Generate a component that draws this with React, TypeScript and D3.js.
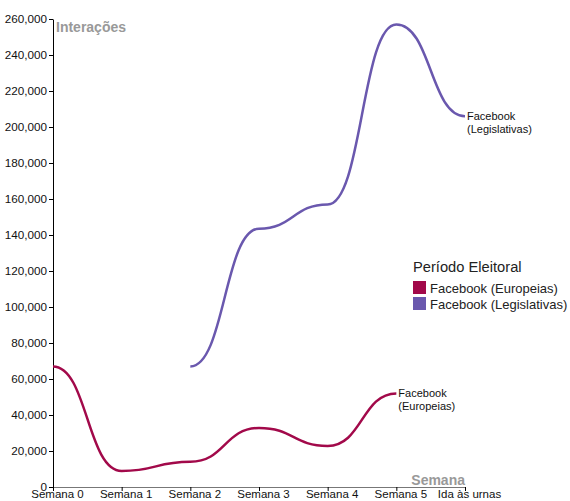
import React, { useEffect, useRef } from 'react';
import * as d3 from 'd3';

const weeks = ['Semana 0', 'Semana 1', 'Semana 2', 'Semana 3', 'Semana 4', 'Semana 5', 'Ida às urnas'];
const europeias = [67000, 8900, 14000, 32800, 22800, 52000, null];
const legislativas = [null, null, 67000, 143500, 157000, 257000, 206000];
const seriesNames = ['Facebook (Europeias)', 'Facebook (Legislativas)'];
const seriesLabels = [['Facebook', '(Europeias)'], ['Facebook', '(Legislativas)']];
const colors = ['#a2094a', '#6a58ae'];
const yTicks = [0, 20000, 40000, 60000, 80000, 100000, 120000, 140000, 160000, 180000, 200000, 220000, 240000, 260000];

const font = 'Liberation Sans, Arial, sans-serif';

const App = () => {
  const svgRef = useRef<SVGSVGElement>(null);

  useEffect(() => {
    const width = 570;
    const height = 501;
    const margin = { top: 19, right: 105, bottom: 14, left: 53 };
    const svg = d3.select(svgRef.current);
    svg.selectAll('*').remove();
    svg.attr('width', width).attr('height', height);

    const innerW = width - margin.left - margin.right;
    const innerH = height - margin.top - margin.bottom;

    const chart = svg.append('g').attr('transform', `translate(${margin.left},${margin.top})`);

    const x = d3.scalePoint<string>().domain(weeks).range([0, innerW]);
    const y = d3.scaleLinear().domain([0, 260000]).range([innerH, 0]);

    const yAxis = chart.append('g')
      .call(d3.axisLeft(y).tickValues(yTicks).tickFormat(d3.format(',')).tickSize(4).tickSizeOuter(0).tickPadding(2));
    yAxis.selectAll('text').style('font-family', font).style('font-size', '11.7px').attr('fill', '#111');

    const xAxis = chart.append('g')
      .attr('transform', `translate(0,${innerH})`)
      .call(d3.axisBottom(x).tickSize(4).tickSizeOuter(0));
    xAxis.select('.domain').attr('stroke', '#777');
    xAxis.selectAll('text')
      .attr('y', 3)
      .attr('dx', 4)
      .style('font-family', font)
      .style('font-size', '11.5px')
      .attr('fill', '#111');

    chart.append('text')
      .attr('x', 3)
      .attr('y', 13)
      .style('font-family', font)
      .style('font-size', '14px')
      .style('font-weight', 'bold')
      .attr('fill', '#999')
      .text('Interações');

    chart.append('text')
      .attr('x', innerW)
      .attr('y', innerH - 2)
      .attr('text-anchor', 'end')
      .style('font-family', font)
      .style('font-size', '14px')
      .style('font-weight', 'bold')
      .attr('fill', '#999')
      .text('Semana');

    const line = d3.line<[string, number | null]>()
      .defined(d => d[1] !== null)
      .x(d => x(d[0]) as number)
      .y(d => y(d[1] as number))
      .curve(d3.curveBumpX);

    [europeias, legislativas].forEach((vals, i) => {
      const pts = weeks.map((w, j) => [w, vals[j]] as [string, number | null]);
      chart.append('path')
        .datum(pts)
        .attr('d', line)
        .attr('fill', 'none')
        .attr('stroke', colors[i])
        .attr('stroke-width', 2.5);

      const last = pts.filter(d => d[1] !== null).slice(-1)[0];
      const lbl = chart.append('text')
        .attr('x', (x(last[0]) as number) + 2)
        .attr('y', y(last[1] as number) + 4)
        .style('font-family', font)
        .style('font-size', '11px')
        .attr('fill', '#111');
      seriesLabels[i].forEach((t, k) => {
        lbl.append('tspan')
          .attr('x', (x(last[0]) as number) + 2)
          .attr('dy', k === 0 ? 0 : 13)
          .text(t);
      });
    });

    const legend = svg.append('g').attr('transform', 'translate(413,272)');
    legend.append('text')
      .attr('x', 0)
      .attr('y', 0)
      .style('font-family', font)
      .style('font-size', '14.7px')
      .attr('fill', '#222')
      .text('Período Eleitoral');
    seriesNames.forEach((n, i) => {
      legend.append('rect')
        .attr('x', 0)
        .attr('y', 9 + i * 16)
        .attr('width', 13)
        .attr('height', 13)
        .attr('fill', colors[i]);
      legend.append('text')
        .attr('x', 17)
        .attr('y', 21 + i * 16)
        .style('font-family', font)
        .style('font-size', '13px')
        .attr('fill', '#222')
        .text(n);
    });
  }, []);

  return (
    <div style={{ position: 'absolute', top: 0, left: 0 }}>
      <svg ref={svgRef}></svg>
    </div>
  );
};

export default App;
